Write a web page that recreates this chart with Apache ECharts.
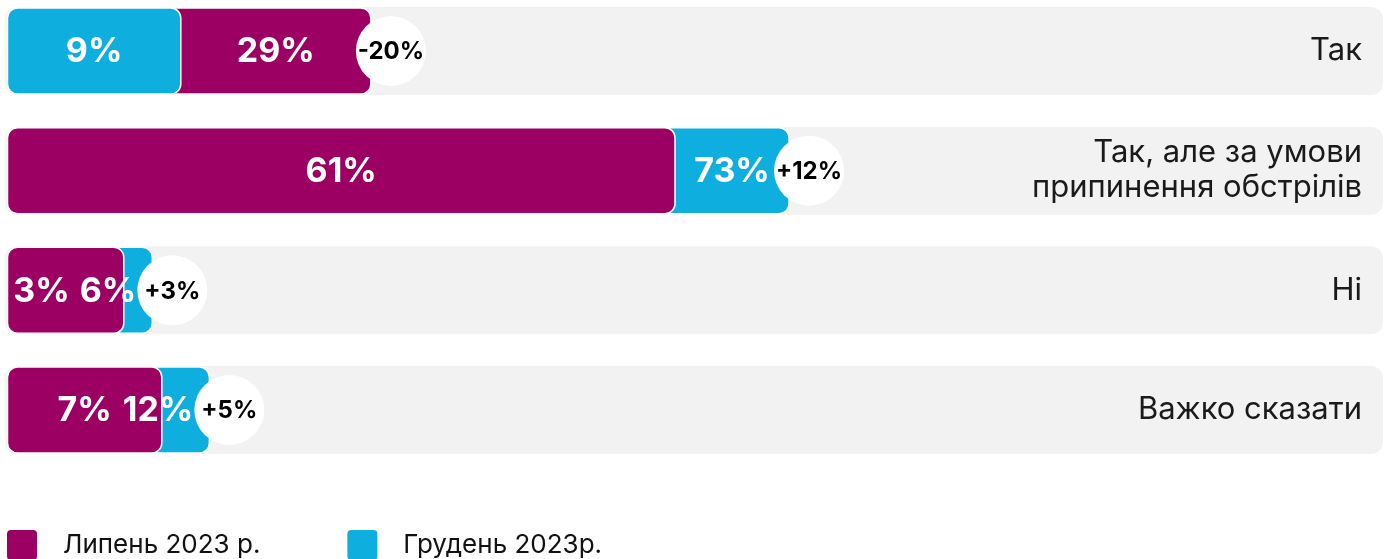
<!DOCTYPE html>
<html>
<head>
<meta charset="utf-8">
<script src="https://cdn.jsdelivr.net/npm/echarts@6/dist/echarts.min.js"></script>
<style>
html,body{margin:0;padding:0;background:#fff;}
#chart{width:1391px;height:559px;}
</style>
</head>
<body>
<div id="chart"></div>
<script>
// ---- data ----
const categories = ['Так', 'Так, але за умови\nприпинення обстрілів', 'Ні', 'Важко сказати'];
const july = [29, 61, 3, 7];        // Липень 2023 р.
const december = [9, 73, 6, 12];    // Грудень 2023р.
const seriesNames = ['Липень 2023 р.', 'Грудень 2023р.'];

// ---- style ----
const C_JULY = '#9B0062';
const C_DEC = '#0EAEDF';
const C_BG = '#F2F2F2';
const FONT = 'Inter, "Noto Sans", sans-serif';
const X_MIN = -9.5, X_MAX = 135.5;
const LABEL_SIZE = 34, DIFF_SIZE = 24;

const measureCtx = document.createElement('canvas').getContext('2d');
function measure(t, size, weight) {
  measureCtx.font = (weight || 'bold') + ' ' + size + 'px Inter, "Noto Sans", sans-serif';
  return measureCtx.measureText(t).width;
}

function layoutRow(api, i) {
  const j = july[i], d = december[i];
  const cy = api.coord([0, i])[1];
  const x0 = api.coord([X_MIN, i])[0] + 2.5;
  const xj = api.coord([j, i])[0];
  const xd = api.coord([d, i])[0];
  const frontIsJuly = j <= d;
  const fEnd = Math.min(xj, xd), bEnd = Math.max(xj, xd);
  const fText = (frontIsJuly ? j : d) + '%';
  const bText = (frontIsJuly ? d : j) + '%';
  const wf = measure(fText, LABEL_SIZE), wb = measure(bText, LABEL_SIZE);
  let fc = (x0 + fEnd) / 2, bc = (fEnd + bEnd) / 2;
  const limit = bEnd - 16;
  if (bc + wb / 2 > limit) bc = limit - wb / 2;
  const gap = 10;
  const overlap = (fc + wf / 2 + gap) - (bc - wb / 2);
  if (overlap > 0) {
    const minFc = x0 + 3 + wf / 2;
    fc -= Math.max(0, Math.min(overlap, fc - minFc));
  }
  return {cy, x0, xj, xd, frontIsJuly, fEnd, bEnd, fc, bc};
}

const BAR_H = 86, BG_H = 88;

function barItem(which) {
  return function (params, api) {
    const i = api.value(0);
    const L = layoutRow(api, i);
    const isJuly = which === 0;
    const end = isJuly ? L.xj : L.xd;
    const isFront = isJuly === L.frontIsJuly;
    const val = isJuly ? july[i] : december[i];
    const labelX = isFront ? L.fc : L.bc;
    return {
      type: 'group',
      children: [
        {
          type: 'rect',
          z2: isFront ? 20 : 10,
          shape: {x: L.x0, y: L.cy - BAR_H / 2, width: end - L.x0, height: BAR_H, r: 10},
          style: {fill: isJuly ? C_JULY : C_DEC, stroke: '#fff', lineWidth: 1.5}
        },
        {
          type: 'text',
          z2: 40,
          style: {
            x: labelX, y: L.cy + 1, text: val + '%',
            fill: '#fff', font: 'bold ' + LABEL_SIZE + 'px ' + FONT,
            textAlign: 'center', textVerticalAlign: 'middle'
          }
        }
      ]
    };
  };
}

const option = {
  animation: false,
  backgroundColor: '#fff',
  grid: {left: 5, right: 8, top: 51, bottom: 149},
  xAxis: {type: 'value', min: X_MIN, max: X_MAX, show: false},
  yAxis: {
    type: 'category', data: categories, inverse: true, position: 'right',
    boundaryGap: false, z: 10,
    axisLine: {show: false}, axisTick: {show: false}, splitLine: {show: false},
    axisLabel: {
      inside: true, margin: 21, fontSize: 31, lineHeight: 35,
      color: '#1a1a1a', fontFamily: FONT
    }
  },
  legend: {
    data: seriesNames,
    left: 7, top: 530, padding: 0,
    itemWidth: 30, itemHeight: 30, itemGap: 87,
    icon: 'path://M4,0 H26 A4,4 0 0 1 30,4 V26 A4,4 0 0 1 26,30 H4 A4,4 0 0 1 0,26 V4 A4,4 0 0 1 4,0 Z',
    textStyle: {fontSize: 26, color: '#111', fontFamily: FONT, padding: [0, 0, 2, 21]},
    selectedMode: false
  },
  series: [
    {
      type: 'custom', name: 'bg', z: 1, silent: true,
      data: categories.map((c, i) => [i]),
      encode: {y: 0},
      renderItem: function (params, api) {
        const i = api.value(0);
        const cy = api.coord([0, i])[1];
        const cs = params.coordSys;
        return {
          type: 'rect',
          shape: {x: cs.x, y: cy - BG_H / 2, width: cs.width, height: BG_H, r: 12},
          style: {fill: C_BG}
        };
      }
    },
    {
      type: 'custom', name: seriesNames[0], z: 2, silent: true,
      itemStyle: {color: C_JULY},
      data: july.map((v, i) => [i, v]),
      encode: {y: 0, x: 1},
      renderItem: barItem(0)
    },
    {
      type: 'custom', name: seriesNames[1], z: 2, silent: true,
      itemStyle: {color: C_DEC},
      data: december.map((v, i) => [i, v]),
      encode: {y: 0, x: 1},
      renderItem: barItem(1)
    },
    {
      type: 'custom', name: 'diff', z: 2, silent: true,
      data: categories.map((c, i) => [i, december[i] - july[i]]),
      encode: {y: 0},
      renderItem: function (params, api) {
        const i = api.value(0);
        const L = layoutRow(api, i);
        const diff = december[i] - july[i];
        const cx = L.bEnd + 20;
        return {
          type: 'group',
          children: [
            {type: 'circle', z2: 30, shape: {cx: cx, cy: L.cy, r: 35}, style: {fill: '#fff'}},
            {
              type: 'text', z2: 41,
              style: {
                x: cx, y: L.cy + 1, text: (diff > 0 ? '+' : '') + diff + '%',
                fill: '#000', font: 'bold ' + DIFF_SIZE + 'px ' + FONT,
                textAlign: 'center', textVerticalAlign: 'middle'
              }
            }
          ]
        };
      }
    }
  ]
};

const chart = echarts.init(document.getElementById('chart'), null, {renderer: 'canvas'});
chart.setOption(option);
</script>
</body>
</html>
